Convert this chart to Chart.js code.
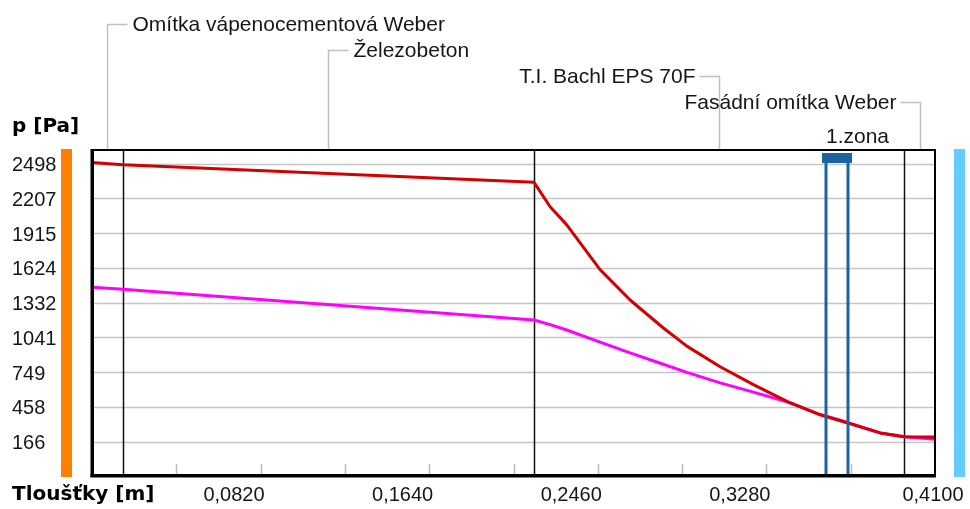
<!DOCTYPE html>
<html><head><meta charset="utf-8">
<script src="https://cdn.jsdelivr.net/npm/chart.js@4"></script>
<style>html,body{margin:0;padding:0;background:#fff;}#wrap{width:970px;height:509px;position:relative;}</style>
</head><body><div id="wrap"><canvas id="c" width="970" height="509"></canvas></div>
<script>
// ---- data ----
const thickness = [0, 0.015, 0.215, 0.2228, 0.2309, 0.2471, 0.2617, 0.2779, 0.2893, 0.3055, 0.3217, 0.338, 0.3542, 0.3672, 0.3834, 0.395, 0.41];
const pSat      = [2508, 2490, 2342, 2137, 1985, 1610, 1355, 1120, 968, 795, 645, 505, 392, 325, 240, 208, 206];
const pVap      = [1461, 1444, 1187, 1148, 1103, 1002, 912, 816, 748, 660, 582, 500, 394, 329, 239, 207, 186];
const yTicks = [166, 458, 749, 1041, 1332, 1624, 1915, 2207, 2498];
const yMin = -113, yMax = 2613;
const xMinorTicks = [0.041, 0.082, 0.123, 0.164, 0.205, 0.246, 0.287, 0.328, 0.369];
const xLabelValues = [0.082, 0.164, 0.246, 0.328, 0.41];
const xLabels = ['0,0820', '0,1640', '0,2460', '0,3280', '0,4100'];
const layerEdges = [0, 0.015, 0.215, 0.395, 0.41];
const layerNames = ['Omítka vápenocementová Weber', 'Železobeton', 'T.I. Bachl EPS 70F', 'Fasádní omítka Weber'];
const zoneEdges = [0.3572, 0.3677];
const zoneName = '1.zona';
const yTitle = 'p [Pa]';
const xTitle = 'Tloušťky [m]';

const REG = '21px "Liberation Sans", Arial, sans-serif';
const TICKF = '20px "Liberation Sans", Arial, sans-serif';
const BOLD = 'bold 20px "DejaVu Sans", sans-serif';
const TXT = '#161616';

const deco = {
  id: 'deco',
  beforeDatasetsDraw(chart) {
    const {ctx, chartArea: a, scales: {x, y}} = chart;
    ctx.save();
    // side bars
    ctx.fillStyle = '#FF8000';
    ctx.fillRect(a.left - 31, a.top - 1, 11, a.bottom - a.top + 3);
    ctx.fillStyle = '#66CCFF';
    ctx.fillRect(a.right + 19, a.top - 1, 11, a.bottom - a.top + 3);
    // horizontal grid
    ctx.strokeStyle = '#c6c6c6';
    ctx.lineWidth = 1.6;
    yTicks.forEach(v => {
      const py = Math.round(y.getPixelForValue(v)) + 0.5;
      ctx.beginPath(); ctx.moveTo(a.left, py); ctx.lineTo(a.right, py); ctx.stroke();
    });
    // minor ticks at bottom
    ctx.strokeStyle = '#bdbdbd';
    ctx.lineWidth = 1.5;
    xMinorTicks.forEach(v => {
      const px = Math.round(x.getPixelForValue(v)) + 0.5;
      ctx.beginPath(); ctx.moveTo(px, a.bottom - 11); ctx.lineTo(px, a.bottom); ctx.stroke();
    });
    // layer boundaries
    ctx.strokeStyle = '#111';
    ctx.lineWidth = 1.5;
    layerEdges.slice(1, -1).forEach(v => {
      const px = Math.round(x.getPixelForValue(v)) + 0.5;
      ctx.beginPath(); ctx.moveTo(px, a.top); ctx.lineTo(px, a.bottom); ctx.stroke();
    });
    // leaders + layer names
    const ly = [24, 50, 76, 102];
    ctx.font = REG;
    ctx.textBaseline = 'middle';
    for (let i = 0; i < layerNames.length; i++) {
      const mid = Math.round(x.getPixelForValue((layerEdges[i] + layerEdges[i + 1]) / 2)) + 0.5;
      const right = i < 2;
      ctx.strokeStyle = '#c0c0c0';
      ctx.lineWidth = 1.5;
      ctx.beginPath();
      ctx.moveTo(mid, a.top);
      ctx.lineTo(mid, ly[i] + 0.5);
      ctx.lineTo(right ? mid + 20 : mid - 20, ly[i] + 0.5);
      ctx.stroke();
      ctx.fillStyle = TXT;
      ctx.textAlign = right ? 'left' : 'right';
      ctx.fillText(layerNames[i], right ? mid + 25 : mid - 24, ly[i] + 1);
    }
    // y labels
    ctx.font = TICKF;
    ctx.textAlign = 'left';
    yTicks.forEach(v => {
      ctx.fillText(String(v), 12, y.getPixelForValue(v) + 2);
    });
    // x labels
    xLabelValues.forEach((v, i) => {
      const px = x.getPixelForValue(v);
      const last = i === xLabelValues.length - 1;
      ctx.textAlign = last ? 'center' : 'right';
      ctx.fillText(xLabels[i], last ? px - 2 : px + 4, 495);
    });
    // titles
    ctx.font = BOLD;
    ctx.textAlign = 'left';
    ctx.fillStyle = '#000';
    ctx.fillText(yTitle, 12, 127);
    ctx.fillText(xTitle, 12, 495);
    // zone name
    ctx.font = REG;
    ctx.fillStyle = TXT;
    ctx.fillText(zoneName, Math.round(x.getPixelForValue(zoneEdges[0])), 137);
    ctx.restore();
  },
  afterDatasetsDraw(chart) {
    const {ctx, chartArea: a, scales: {x}} = chart;
    ctx.save();
    const z0 = x.getPixelForValue(zoneEdges[0]);
    const z1 = x.getPixelForValue(zoneEdges[1]);
    ctx.fillStyle = '#1C64A0';
    ctx.fillRect(Math.round(z0) - 4, a.top + 3, Math.round(z1 - z0) + 8, 10);
    ctx.fillRect(Math.round(z0) - 1.5, a.top + 3, 3, a.bottom - a.top - 3);
    ctx.fillRect(Math.round(z1) - 1.5, a.top + 3, 3, a.bottom - a.top - 3);
    // box
    ctx.fillStyle = '#000';
    ctx.fillRect(a.left - 1.5, a.top - 1, 3.5, a.bottom - a.top + 3);
    ctx.fillRect(a.left - 1.5, a.bottom - 1, a.right - a.left + 2.5, 3.5);
    ctx.fillRect(a.left, a.top - 1, a.right - a.left, 2);
    ctx.fillRect(a.right - 1, a.top - 1, 2, a.bottom - a.top + 2);
    ctx.restore();
  }
};

new Chart(document.getElementById('c'), {
  type: 'line',
  data: {
    datasets: [
      { label: 'psat', data: thickness.map((t, i) => ({x: t, y: pSat[i]})), borderColor: '#D20000', borderWidth: 3, pointRadius: 0, tension: 0, borderJoinStyle: 'round', order: 0 },
      { label: 'p', data: thickness.map((t, i) => ({x: t, y: pVap[i]})), borderColor: '#FF00FF', borderWidth: 3, pointRadius: 0, tension: 0, borderJoinStyle: 'round', order: 1 }
    ]
  },
  options: {
    responsive: false, animation: false, devicePixelRatio: 1,
    layout: { padding: { left: 92, right: 35, top: 150, bottom: 34 } },
    plugins: { legend: { display: false }, tooltip: { enabled: false } },
    scales: {
      x: { type: 'linear', min: 0, max: 0.41, display: false },
      y: { type: 'linear', min: yMin, max: yMax, display: false }
    }
  },
  plugins: [deco]
});
</script>
</body></html>
